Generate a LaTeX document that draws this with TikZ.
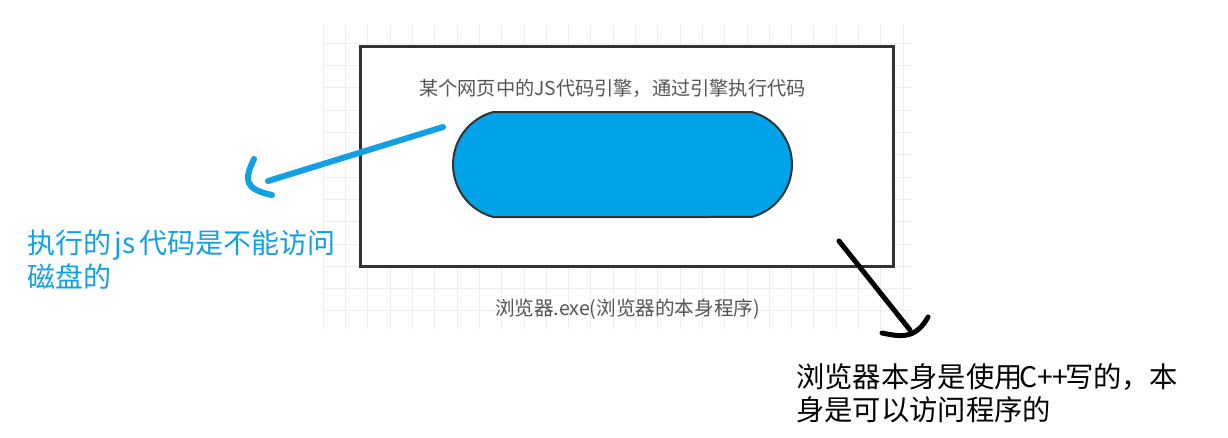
\documentclass[tikz,border=0pt]{standalone}
\usepackage{fontspec}
\setmainfont{Noto Sans CJK SC}
\usetikzlibrary{shapes.misc}
\definecolor{boxgray}{HTML}{333333}
\definecolor{textgray}{HTML}{555555}
\definecolor{gridgray}{HTML}{EDEDED}
\definecolor{enginefill}{HTML}{00A3E8}
\definecolor{penblue}{HTML}{12A0E4}
\newcommand{\halfw}[2]{\makebox[#1em]{#2}}
\tikzset{
  gridline/.style={draw=gridgray, line width=1pt},
  browserbox/.style={draw=boxgray, line width=3pt, fill=white},
  enginebox/.style={rounded rectangle, rounded rectangle arc length=150, draw=boxgray, line width=2pt,
    fill=enginefill, minimum width=339pt, minimum height=105pt, inner sep=0pt},
  boxtext/.style={text=textgray, inner sep=0pt},
  bluenote/.style={text=penblue, font=\fontsize{28}{34}\selectfont, align=left, anchor=west, inner sep=0pt},
  blacknote/.style={text=black, font=\fontsize{28.3}{33}\selectfont, align=left, anchor=west, inner sep=0pt},
  bluepen/.style={draw=penblue, line width=6pt, line cap=round, line join=round},
  blackpen/.style={draw=black, line width=5pt, line cap=round, line join=round}
}
\begin{document}
\begin{tikzpicture}[x=1pt, y=-1pt]
   \useasboundingbox (0,0) rectangle (1228,437);
   %rejilla
   \begin{scope}
     \clip (323,25) rectangle (912,329);
     \foreach \k in {0,...,26} \draw[gridline] (323.3+22.3*\k,25) -- (323.3+22.3*\k,329);
     \foreach \k in {-1,...,12} \draw[gridline] (323,43.3+22.3*\k) -- (912,43.3+22.3*\k);
   \end{scope}
   %caja del navegador
   \draw[browserbox] (360,46) rectangle (893,266);
   \node[boxtext, font=\fontsize{19.2}{22}\selectfont] (title) at (612.5,88) {某个网页中的JS代码引擎，通过引擎执行代码};
   \node[enginebox] (engine) at (622.5,164.5) {};
   \node[boxtext, font=\fontsize{19.6}{22}\selectfont] (exe) at (627.5,309) {浏览器.exe(浏览器的本身程序)};
   %notas
   \node[bluenote] (jsnote) at (27,260) {执行的\halfw{1}{js}代码是不能访问\\磁盘的};
   \node[blacknote] (cppnote) at (796,393) {浏览器本身是使用\halfw{1.5}{C++}写的，本\\身是可以访问程序的};
   %flechas a mano
   \coordinate (jsfrom) at (443,127);
   \coordinate (jsto) at (268,181);
   \coordinate (jshead) at (254,159);
   \coordinate (jsbarb) at (272,195);
   \draw[bluepen] (jsfrom) -- (jsto);
   \draw[bluepen] (jshead) .. controls (244,180) and (244,189) .. (jsbarb);
   \coordinate (cppfrom) at (839,241);
   \coordinate (cppto) at (910,330);
   \coordinate (cpphead) at (882,333);
   \coordinate (cppbarb) at (928,317);
   \draw[blackpen] (cppfrom) -- (cppto);
   \draw[blackpen] (cpphead) .. controls (898,336) and (915,341) .. (cppbarb);
\end{tikzpicture}
\end{document}
